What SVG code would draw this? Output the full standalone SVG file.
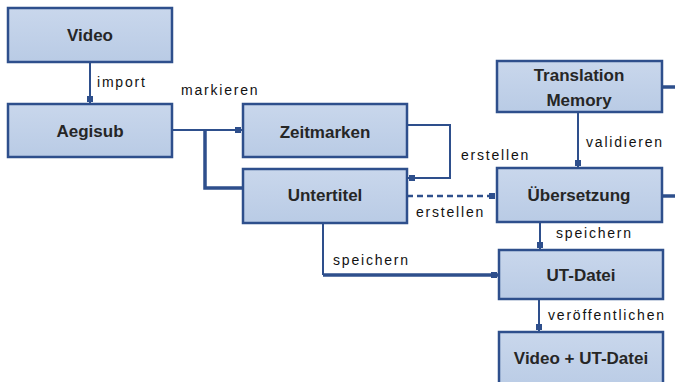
<svg xmlns="http://www.w3.org/2000/svg" width="675" height="382" viewBox="0 0 675 382">
<defs>
<linearGradient id="g" x1="0" y1="0" x2="0" y2="1">
<stop offset="0" stop-color="#c9d7ec"/>
<stop offset="1" stop-color="#b9cbe5"/>
</linearGradient>
<marker id="m" viewBox="0 0 10 10" refX="10" refY="5" markerWidth="10" markerHeight="10" markerUnits="userSpaceOnUse" orient="auto">
<rect x="2" y="2" width="6" height="6" fill="#2e4f8c"/>
</marker>
</defs>
<style>
.box{fill:url(#g);stroke:#2e4f8c;stroke-width:2.5}
.t{font-family:"Liberation Sans",Arial,sans-serif;font-weight:bold;font-size:17px;fill:#262626;text-anchor:middle}
.l{font-family:"Liberation Sans",Arial,sans-serif;font-size:14px;letter-spacing:1.8px;fill:#111}
.c{fill:none;stroke:#2e4f8c;stroke-width:2}
.th{fill:none;stroke:#2e4f8c;stroke-width:3.5}
.d{fill:none;stroke:#2e4f8c;stroke-width:2.5;stroke-dasharray:6,4}
</style>
<g id="connectors">
<path class="c" d="M90,62 V104" marker-end="url(#m)"/>
<path class="c" d="M172,130 H243" marker-end="url(#m)"/>
<path class="th" d="M205,130 V188 H243"/>
<path class="c" d="M407,125 H450 V178 H407" marker-end="url(#m)"/>
<path class="d" d="M407,196 H497" marker-end="url(#m)"/>
<path class="c" d="M578,112 V168" marker-end="url(#m)"/>
<path class="c" d="M540,222 V250" marker-end="url(#m)"/>
<path class="c" d="M323,223 V275"/>
<path class="th" d="M323,275 H499" marker-end="url(#m)"/>
<path class="c" d="M539,299 V332" marker-end="url(#m)"/>
<path class="th" d="M662,87 H675"/>
<path class="th" d="M662,196 H675"/>
<text class="l" x="97" y="87">import</text>
<text class="l" x="181" y="95">markieren</text>
<text class="l" x="461" y="160">erstellen</text>
<text class="l" x="416" y="217">erstellen</text>
<text class="l" x="586" y="147">validieren</text>
<text class="l" x="556" y="238">speichern</text>
<text class="l" x="333" y="265">speichern</text>
<text class="l" x="548" y="320">veröffentlichen</text>
</g>
<g id="video"><rect class="box" x="8" y="8" width="164" height="54"/><text class="t" x="90" y="41">Video</text></g>
<g id="aegisub"><rect class="box" x="8" y="104" width="164" height="53"/><text class="t" x="90" y="137">Aegisub</text></g>
<g id="zeitmarken"><rect class="box" x="243" y="104" width="164" height="53"/><text class="t" x="325" y="138">Zeitmarken</text></g>
<g id="untertitel"><rect class="box" x="243" y="169" width="164" height="54"/><text class="t" x="325" y="201">Untertitel</text></g>
<g id="tm"><rect class="box" x="497" y="61" width="165" height="51"/><text class="t" x="579" y="81">Translation</text><text class="t" x="579" y="106">Memory</text></g>
<g id="uebersetzung"><rect class="box" x="497" y="168" width="165" height="54"/><text class="t" x="579" y="201">Übersetzung</text></g>
<g id="utdatei"><rect class="box" x="499" y="250" width="164" height="49"/><text class="t" x="581" y="281">UT-Datei</text></g>
<g id="videout"><rect class="box" x="499" y="332" width="164" height="60"/><text class="t" x="581" y="364">Video + UT-Datei</text></g>
</svg>
